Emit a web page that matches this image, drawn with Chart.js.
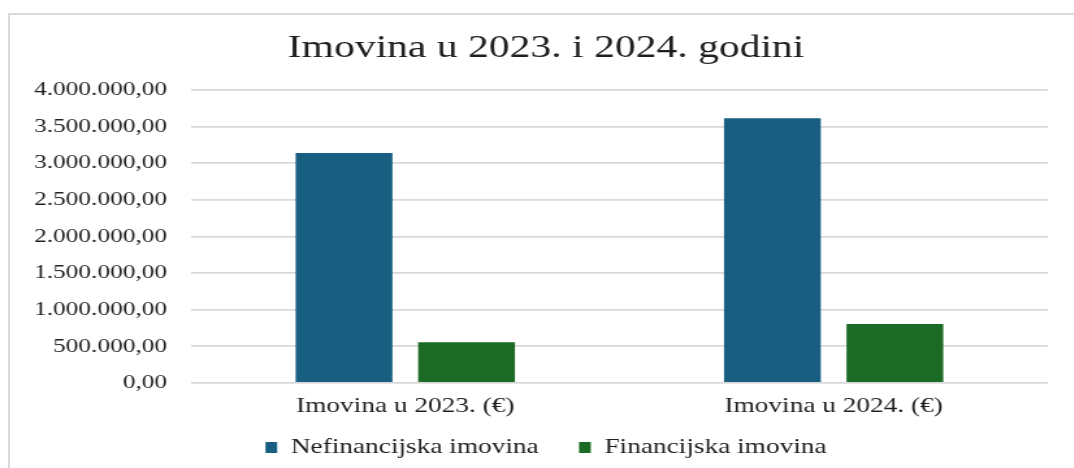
<!DOCTYPE html>
<html>
<head>
<meta charset="utf-8">
<script src="https://cdn.jsdelivr.net/npm/chart.js@4"></script>
<style>
  html, body { margin: 0; padding: 0; background: #ffffff; width: 1074px; height: 468px; overflow: hidden; }
  #frame { position: absolute; left: 8px; top: 13px; width: 1200px; height: 600px;
           border-left: 2px solid #d9d9d9; border-top: 2px solid #d9d9d9; }
  #c { position: absolute; left: 0; top: 0; transform: scaleX(1.3); transform-origin: 0 0; }
</style>
</head>
<body>
<div id="frame"></div>
<canvas id="c" width="826" height="468"></canvas>
<script>
const categories = ['Imovina u 2023. (€)', 'Imovina u 2024. (€)'];
const seriesNames = ['Nefinancijska imovina', 'Financijska imovina'];
const nefinancijska = [3140000, 3615000];
const financijska = [555000, 805000];
const yTicks = [0, 500000, 1000000, 1500000, 2000000, 2500000, 3000000, 3500000, 4000000];

function fmt(v) {
  const s = Math.round(v).toString().replace(/\B(?=(\d{3})+(?!\d))/g, '.');
  return s + ',00';
}

const serif = "'Liberation Serif', 'Times New Roman', serif";
const txt = '#1f1f1f';
Chart.defaults.font.family = serif;
Chart.defaults.color = txt;

// widen the label clip boxes of both axes so no tick text is cut
const unclip = {
  id: 'unclip',
  afterLayout(chart) {
    const x = chart.scales.x;
    x.bottom = x.top + 40;
    const y = chart.scales.y;
    y.left = 0;
  }
};

new Chart(document.getElementById('c'), {
  type: 'bar',
  data: {
    labels: categories,
    datasets: [
      { label: seriesNames[0], data: nefinancijska, backgroundColor: '#175E80',
        categoryPercentage: 0.572, barPercentage: 0.79 },
      { label: seriesNames[1], data: financijska, backgroundColor: '#1B6A25',
        categoryPercentage: 0.572, barPercentage: 0.79 }
    ]
  },
  plugins: [unclip],
  options: {
    responsive: false,
    animation: false,
    devicePixelRatio: 1,
    layout: { padding: { left: 34, right: 20, top: 29, bottom: 0 } },
    plugins: {
      title: {
        display: true,
        text: 'Imovina u 2023. i 2024. godini',
        color: txt,
        font: { family: serif, size: 32, weight: 'normal' },
        padding: { top: 0, bottom: 22.6 }
      },
      legend: {
        display: true,
        position: 'bottom',
        labels: {
          color: txt,
          font: { family: serif, size: 21, weight: 'normal' },
          boxWidth: 9,
          boxHeight: 11,
          padding: 31
        }
      },
      tooltip: { enabled: false }
    },
    scales: {
      x: {
        grid: { display: false, drawTicks: false },
        border: { display: false },
        ticks: { color: txt, font: { family: serif, size: 21 }, padding: 10.5 },
        afterFit: (s) => { s.height = 23; }
      },
      y: {
        min: 0,
        max: 4000000,
        afterBuildTicks: (s) => { s.ticks = yTicks.map(v => ({ value: v })); },
        grid: { color: '#d9d9d9', lineWidth: 1.8, drawTicks: false },
        border: { display: false },
        ticks: { color: txt, font: { family: serif, size: 19.5 }, padding: 18.5,
                 callback: (v) => fmt(v) },
        afterFit: (s) => { s.width = 113; }
      }
    }
  }
});
</script>
</body>
</html>
